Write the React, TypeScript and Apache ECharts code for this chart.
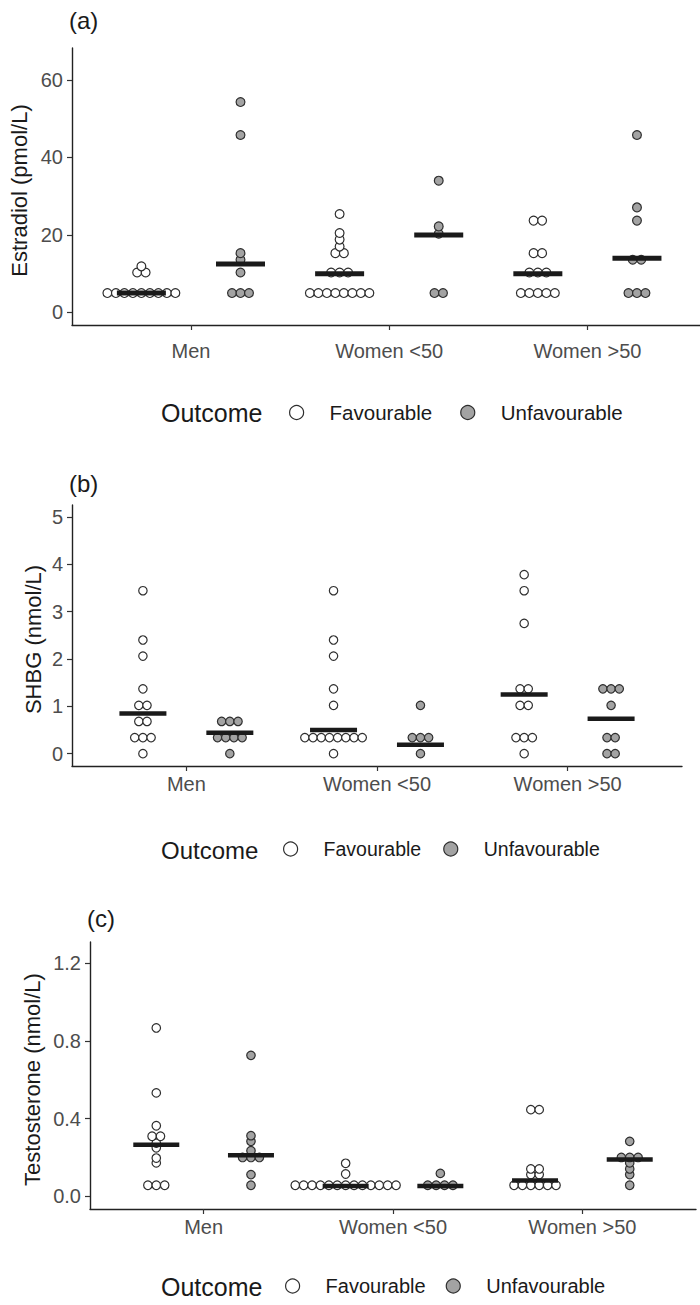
import React, { useEffect, useRef } from 'react';
import * as echarts from 'echarts';

const groups = ['Men', 'Women <50', 'Women >50'];
const outcomes = ['Favourable', 'Unfavourable'];

// (a) Estradiol (pmol/L)
const estradiolFav = [
  [5, 5, 5, 5, 5, 5, 5, 5, 5, 10.3, 10.3, 11.9],
  [5, 5, 5, 5, 5, 5, 5, 5, 10.3, 10.3, 10.3, 15.3, 15.3, 17.0, 18.8, 20.5, 25.4],
  [5, 5, 5, 5, 5, 10.3, 10.3, 10.3, 15.3, 15.3, 23.7, 23.7],
];
const estradiolUnfav = [
  [5, 5, 5, 10.3, 13.6, 15.3, 45.8, 54.3],
  [5, 5, 20.3, 22.2, 34.0],
  [5, 5, 5, 13.6, 13.6, 23.7, 27.1, 45.8],
];
const estradiolMedianFav = [5, 10, 10];
const estradiolMedianUnfav = [12.5, 20, 14];
const estradiolTicks = [0, 20, 40, 60];

// (b) SHBG (nmol/L)
const shbgFav = [
  [0, 0.34, 0.34, 0.34, 0.68, 0.68, 1.02, 1.02, 1.37, 2.06, 2.4, 3.44],
  [0, 0.34, 0.34, 0.34, 0.34, 0.34, 0.34, 0.34, 0.34, 1.02, 1.37, 2.06, 2.4, 3.44],
  [0, 0.34, 0.34, 0.34, 1.02, 1.02, 1.37, 1.37, 2.75, 3.44, 3.78],
];
const shbgUnfav = [
  [0, 0.34, 0.34, 0.34, 0.34, 0.68, 0.68, 0.68],
  [0, 0.34, 0.34, 0.34, 1.02],
  [0, 0, 0.34, 0.34, 1.02, 1.37, 1.37, 1.37],
];
const shbgMedianFav = [0.85, 0.5, 1.25];
const shbgMedianUnfav = [0.44, 0.19, 0.74];
const shbgTicks = [0, 1, 2, 3, 4, 5];

// (c) Testosterone (nmol/L)
const testoFav = [
  [0.057, 0.057, 0.057, 0.172, 0.197, 0.25, 0.274, 0.309, 0.309, 0.363, 0.532, 0.866],
  [0.057, 0.057, 0.057, 0.057, 0.057, 0.057, 0.057, 0.057, 0.057, 0.057, 0.057, 0.057, 0.057, 0.115, 0.17],
  [0.057, 0.057, 0.057, 0.057, 0.057, 0.057, 0.112, 0.112, 0.141, 0.141, 0.446, 0.446],
];
const testoUnfav = [
  [0.057, 0.112, 0.2, 0.2, 0.2, 0.235, 0.283, 0.312, 0.725],
  [0.057, 0.057, 0.057, 0.057, 0.118],
  [0.057, 0.112, 0.141, 0.172, 0.2, 0.2, 0.2, 0.283],
];
const testoMedianFav = [0.266, 0.053, 0.081];
const testoMedianUnfav = [0.211, 0.053, 0.189];
const testoTicks = [0, 0.4, 0.8, 1.2];

const FONT = '"Liberation Sans", Arial, Helvetica, sans-serif';
const TICK_COLOR = '#4d4d4d';
const AXIS_COLOR = '#222222';
const FAV_FILL = '#ffffff';
const UNFAV_FILL = '#a3a3a3';
const DOT_BORDER = '#2e2e2e';

type Panel = {
  tag: string;
  title: string;
  fav: number[][];
  unfav: number[][];
  medFav: number[];
  medUnfav: number[];
  ticks: number[];
  fmt: (v: number) => string;
  grid: { left: number; top: number; width: number; height: number };
  xMax: number;
  yMin: number;
  yMax: number;
  dodge: number;
  spacing: number;
  dot: number;
  barW: number;
  barH: number;
  titleX: number;
  tagY: number;
  legendY: number;
  xLabelMargin: number;
  legendLeft: number;
  legendGap: number;
  legendFont: number;
  outcomeFont: number;
};

const panels: Panel[] = [
  {
    tag: '(a)', title: 'Estradiol (pmol/L)',
    fav: estradiolFav, unfav: estradiolUnfav, medFav: estradiolMedianFav, medUnfav: estradiolMedianUnfav,
    ticks: estradiolTicks, fmt: (v) => String(v),
    grid: { left: 72, top: 48, width: 628, height: 277 },
    xMax: 3.568, yMin: -3.25, yMax: 68.25, dodge: 0.25, spacing: 8.5, dot: 8.8, barW: 49, barH: 5,
    titleX: 19, tagY: 20, legendY: 413, xLabelMargin: 16,
    legendLeft: 289, legendGap: 28, legendFont: 20.5, outcomeFont: 25,
  },
  {
    tag: '(b)', title: 'SHBG (nmol/L)',
    fav: shbgFav, unfav: shbgUnfav, medFav: shbgMedianFav, medUnfav: shbgMedianUnfav,
    ticks: shbgTicks, fmt: (v) => String(v),
    grid: { left: 72, top: 505, width: 610, height: 261 },
    xMax: 3.6, yMin: -0.26, yMax: 5.25, dodge: 0.228, spacing: 8.2, dot: 8.4, barW: 47, barH: 4.5,
    titleX: 33, tagY: 483, legendY: 850, xLabelMargin: 8,
    legendLeft: 283, legendGap: 22, legendFont: 19.5, outcomeFont: 24,
  },
  {
    tag: '(c)', title: 'Testosterone (nmol/L)',
    fav: testoFav, unfav: testoUnfav, medFav: testoMedianFav, medUnfav: testoMedianUnfav,
    ticks: testoTicks, fmt: (v) => v.toFixed(1),
    grid: { left: 90, top: 942, width: 606, height: 267 },
    xMax: 3.6, yMin: -0.065, yMax: 1.308, dodge: 0.25, spacing: 8.4, dot: 8.5, barW: 46, barH: 4.5,
    titleX: 32, tagY: 918, legendY: 1287, xLabelMargin: 8,
    legendLeft: 285, legendGap: 20, legendFont: 20, outcomeFont: 25,
  },
];

function stackDots(values: number[], x: number, spacing: number) {
  const counts = new Map<number, number>();
  values.forEach((v) => counts.set(v, (counts.get(v) || 0) + 1));
  const seen = new Map<number, number>();
  return values.map((v) => {
    const n = counts.get(v) as number;
    const i = seen.get(v) || 0;
    seen.set(v, i + 1);
    return { value: [x, v], symbolOffset: [(i - (n - 1) / 2) * spacing, 0] };
  });
}

function buildOption() {
  const grid: any[] = [];
  const xAxis: any[] = [];
  const yAxis: any[] = [];
  const series: any[] = [];
  const legend: any[] = [];
  const graphic: any[] = [];

  panels.forEach((p, pi) => {
    grid.push({ ...p.grid, containLabel: false });
    xAxis.push({
      type: 'value', gridIndex: pi, min: 0.4, max: p.xMax,
      axisLine: { show: true, onZero: false, lineStyle: { color: AXIS_COLOR, width: 1.4 } },
      axisTick: { show: true, customValues: [1, 2, 3], length: 5, lineStyle: { color: '#333', width: 1.2 } },
      axisLabel: {
        customValues: [1, 2, 3], formatter: (v: number) => groups[Math.round(v) - 1] || '',
        color: TICK_COLOR, fontSize: 20, fontFamily: FONT, margin: p.xLabelMargin,
      },
      splitLine: { show: false },
    });
    yAxis.push({
      type: 'value', gridIndex: pi, min: p.yMin, max: p.yMax,
      axisLine: { show: true, onZero: false, lineStyle: { color: AXIS_COLOR, width: 1.4 } },
      axisTick: { show: true, customValues: p.ticks, length: 5, lineStyle: { color: '#333', width: 1.2 } },
      axisLabel: {
        customValues: p.ticks, formatter: (v: number) => p.fmt(v),
        color: TICK_COLOR, fontSize: 20, fontFamily: FONT, margin: 9,
      },
      splitLine: { show: false },
    });

    const favData: any[] = [];
    const unfavData: any[] = [];
    const medData: any[] = [];
    groups.forEach((g, gi) => {
      favData.push(...stackDots(p.fav[gi], gi + 1 - p.dodge, p.spacing));
      unfavData.push(...stackDots(p.unfav[gi], gi + 1 + p.dodge, p.spacing));
      medData.push({ value: [gi + 1 - p.dodge, p.medFav[gi]] });
      medData.push({ value: [gi + 1 + p.dodge, p.medUnfav[gi]] });
    });

    series.push({
      name: outcomes[0], type: 'scatter', xAxisIndex: pi, yAxisIndex: pi,
      symbol: 'circle', symbolSize: p.dot, data: favData, silent: true, z: 2,
      itemStyle: { color: FAV_FILL, borderColor: DOT_BORDER, borderWidth: 1.2, opacity: 1 },
    });
    series.push({
      name: outcomes[1], type: 'scatter', xAxisIndex: pi, yAxisIndex: pi,
      symbol: 'circle', symbolSize: p.dot, data: unfavData, silent: true, z: 2,
      itemStyle: { color: UNFAV_FILL, borderColor: DOT_BORDER, borderWidth: 1.2, opacity: 1 },
    });
    series.push({
      name: 'Median', type: 'scatter', xAxisIndex: pi, yAxisIndex: pi,
      symbol: 'rect', symbolSize: [p.barW, p.barH], data: medData, silent: true, z: 3,
      itemStyle: { color: '#1a1a1a', opacity: 1 },
    });

    legend.push({
      left: p.legendLeft, top: p.legendY - 11, orient: 'horizontal', padding: 0,
      itemWidth: 56, itemHeight: 14, itemGap: p.legendGap, selectedMode: false,
      textStyle: { fontSize: p.legendFont, color: '#1a1a1a', fontFamily: FONT },
      data: [
        { name: outcomes[0], icon: 'circle', itemStyle: { color: FAV_FILL, borderColor: DOT_BORDER, borderWidth: 1.2 } },
        { name: outcomes[1], icon: 'circle', itemStyle: { color: UNFAV_FILL, borderColor: DOT_BORDER, borderWidth: 1.2 } },
      ],
    });

    graphic.push({
      type: 'text', x: 161, y: p.legendY, silent: true,
      style: { text: 'Outcome', fontSize: p.outcomeFont, fontFamily: FONT, fill: '#1a1a1a', align: 'left', verticalAlign: 'middle' },
    });
    graphic.push({
      type: 'text', x: p.grid.left - 3, y: p.tagY, silent: true,
      style: { text: p.tag, fontSize: 24, fontFamily: FONT, fill: '#1a1a1a', align: 'left', verticalAlign: 'middle' },
    });
    graphic.push({
      type: 'text', x: p.titleX, y: p.grid.top + p.grid.height / 2 + 4, rotation: Math.PI / 2, silent: true,
      style: { text: p.title, fontSize: 22, fontFamily: FONT, fill: '#1a1a1a', align: 'center', verticalAlign: 'middle' },
    });
  });

  return { animation: false, backgroundColor: '#ffffff', grid, xAxis, yAxis, series, legend, graphic };
}

export default function App() {
  const ref = useRef<HTMLDivElement>(null);
  useEffect(() => {
    if (!ref.current) return;
    const chart = echarts.init(ref.current, undefined, { renderer: 'svg' });
    chart.setOption(buildOption() as any);
    return () => chart.dispose();
  }, []);
  return <div ref={ref} style={{ position: 'absolute', left: 0, top: 0, width: 700, height: 1305 }} />;
}
